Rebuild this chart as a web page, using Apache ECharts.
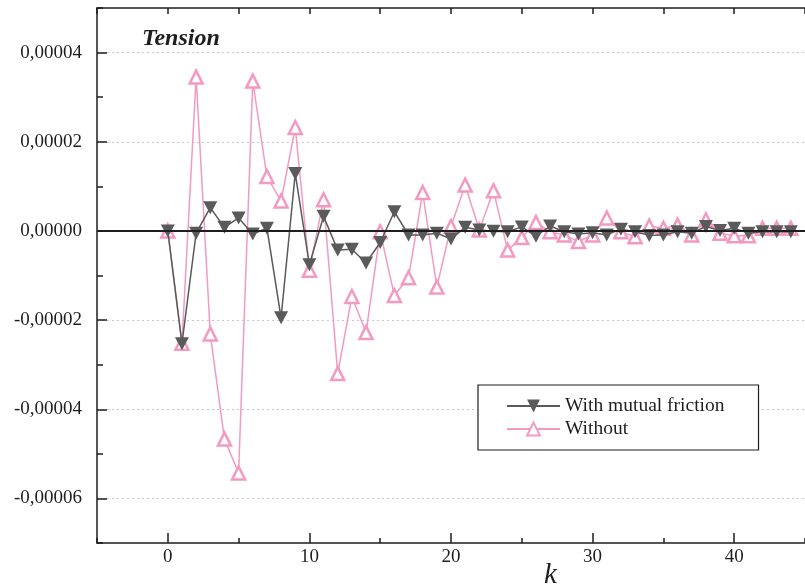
<!DOCTYPE html>
<html>
<head>
<meta charset="utf-8">
<title>Tension</title>
<script src="https://cdn.jsdelivr.net/npm/echarts@6/dist/echarts.min.js"></script>
<style>
  html, body { margin: 0; padding: 0; background: #ffffff; }
  #chart { width: 805px; height: 587px; }
</style>
</head>
<body>
<div id="chart"></div>
<script>
// Mode index k
const kValues = [0, 1, 2, 3, 4, 5, 6, 7, 8, 9, 10, 11, 12, 13, 14, 15, 16, 17, 18, 19,
  20, 21, 22, 23, 24, 25, 26, 27, 28, 29, 30, 31, 32, 33, 34, 35, 36, 37, 38, 39,
  40, 41, 42, 43, 44];

// Tension with mutual friction
const withFriction = [0, -2.53e-5, -0.05e-5, 0.52e-5, 0.08e-5, 0.29e-5, -0.07e-5, 0.06e-5, -1.95e-5, 1.29e-5,
  -0.76e-5, 0.33e-5, -0.43e-5, -0.41e-5, -0.72e-5, -0.26e-5, 0.43e-5, -0.09e-5, -0.09e-5, -0.05e-5,
  -0.18e-5, 0.08e-5, 0.02e-5, -0.01e-5, -0.02e-5, 0.09e-5, -0.12e-5, 0.11e-5, -0.02e-5, -0.07e-5,
  -0.04e-5, -0.09e-5, 0.04e-5, -0.02e-5, -0.10e-5, -0.09e-5, -0.02e-5, -0.05e-5, 0.10e-5, 0.01e-5,
  0.06e-5, -0.05e-5, -0.02e-5, -0.02e-5, -0.02e-5];

// Tension without mutual friction
const withoutFriction = [0, -2.52e-5, 3.45e-5, -2.31e-5, -4.67e-5, -5.43e-5, 3.36e-5, 1.22e-5, 0.67e-5, 2.32e-5,
  -0.88e-5, 0.70e-5, -3.20e-5, -1.47e-5, -2.28e-5, -0.02e-5, -1.45e-5, -1.05e-5, 0.86e-5, -1.26e-5,
  0.10e-5, 1.03e-5, 0.02e-5, 0.90e-5, -0.43e-5, -0.15e-5, 0.19e-5, -0.02e-5, -0.09e-5, -0.24e-5,
  -0.09e-5, 0.29e-5, -0.02e-5, -0.13e-5, 0.11e-5, 0.06e-5, 0.13e-5, -0.09e-5, 0.25e-5, -0.05e-5,
  -0.11e-5, -0.11e-5, 0.06e-5, 0.06e-5, 0.06e-5];

// Labelled ticks
const xMajorTicks = [0, 10, 20, 30, 40];
const yMajorTicks = [-6e-5, -4e-5, -2e-5, 0, 2e-5, 4e-5];

const seriesNames = ['With mutual friction', 'Without'];

const FONT = '"Liberation Serif", "Times New Roman", serif';
const INK = '#1e1e1e';
const GREY = '#5a5a5a';
const PINK = '#f49ac2';

const toPairs = (xs, ys) => xs.map((x, i) => [x, ys[i]]);

const chart = echarts.init(document.getElementById('chart'), null, { renderer: 'canvas' });

const axisLine = { show: true, onZero: false, lineStyle: { color: INK, width: 1.5 } };
const noLine = { show: false, onZero: false };
const tickStyle = { color: INK, width: 1.5 };

chart.setOption({
  animation: false,
  backgroundColor: '#ffffff',
  grid: { left: 97, top: 8, width: 720, height: 535, containLabel: false },
  xAxis: [
    { // bottom axis line with a tick every 5
      type: 'value', position: 'bottom', min: -5, max: 45, interval: 5,
      axisLine: axisLine,
      axisTick: { inside: true, length: 5, lineStyle: tickStyle },
      axisLabel: { show: false }, splitLine: { show: false }
    },
    { // bottom labelled ticks
      type: 'value', position: 'bottom', min: -5, max: 45,
      axisLine: noLine,
      axisTick: { inside: true, length: 10, customValues: xMajorTicks, lineStyle: tickStyle },
      axisLabel: { customValues: xMajorTicks, margin: 5, fontFamily: FONT, fontSize: 19, color: INK },
      splitLine: { show: false }
    },
    { // top frame
      type: 'value', position: 'top', min: -5, max: 45, interval: 5,
      axisLine: axisLine,
      axisTick: { inside: true, length: 6, lineStyle: tickStyle },
      axisLabel: { show: false }, splitLine: { show: false }
    }
  ],
  yAxis: [
    { // left axis line with a tick every 1e-5
      type: 'value', position: 'left', min: -7e-5, max: 5e-5, interval: 1e-5,
      axisLine: axisLine,
      axisTick: { inside: true, length: 6, lineStyle: tickStyle },
      axisLabel: { show: false }, splitLine: { show: false }
    },
    { // left labelled ticks and dotted grid
      type: 'value', position: 'left', min: -7e-5, max: 5e-5,
      axisLine: noLine,
      axisTick: { inside: true, length: 10, customValues: yMajorTicks, lineStyle: tickStyle },
      axisLabel: {
        customValues: yMajorTicks, margin: 15, fontFamily: FONT, fontSize: 19, color: INK,
        formatter: v => v.toFixed(5).replace('.', ',')
      },
      splitLine: { show: true, lineStyle: { color: '#c8c8c8', width: 1, type: [2, 3] } }
    }
  ],
  legend: {
    orient: 'vertical', left: 478, top: 385,
    padding: [11, 34, 11, 28], itemGap: 3, itemWidth: 53, itemHeight: 16,
    borderColor: INK, borderWidth: 1.2, backgroundColor: '#ffffff',
    textStyle: { fontFamily: FONT, fontSize: 19.5, lineHeight: 20, color: INK },
    data: seriesNames
  },
  graphic: [
    {
      type: 'text', left: 142, top: 27,
      style: { text: 'Tension', font: 'italic bold 24px ' + FONT, fill: INK }
    },
    {
      type: 'text', left: 544, top: 561,
      style: { text: 'k', font: 'italic 29px ' + FONT, fill: INK }
    }
  ],
  series: [
    {
      name: seriesNames[1], type: 'line', xAxisIndex: 0, yAxisIndex: 0, z: 2,
      data: toPairs(kValues, withoutFriction),
      symbol: 'triangle', symbolSize: 13,
      lineStyle: { color: PINK, width: 1.5 },
      itemStyle: { color: '#ffffff', borderColor: PINK, borderWidth: 2.5 },
      markLine: {
        silent: true, symbol: 'none', label: { show: false },
        lineStyle: { color: INK, width: 2, type: 'solid' },
        data: [{ yAxis: 0 }]
      }
    },
    {
      name: seriesNames[0], type: 'line', xAxisIndex: 0, yAxisIndex: 0, z: 3,
      data: toPairs(kValues, withFriction),
      symbol: 'triangle', symbolRotate: 180, symbolSize: [14, 13],
      lineStyle: { color: GREY, width: 1.5 },
      itemStyle: { color: GREY, borderColor: GREY, borderWidth: 0 }
    }
  ]
});
</script>
</body>
</html>
